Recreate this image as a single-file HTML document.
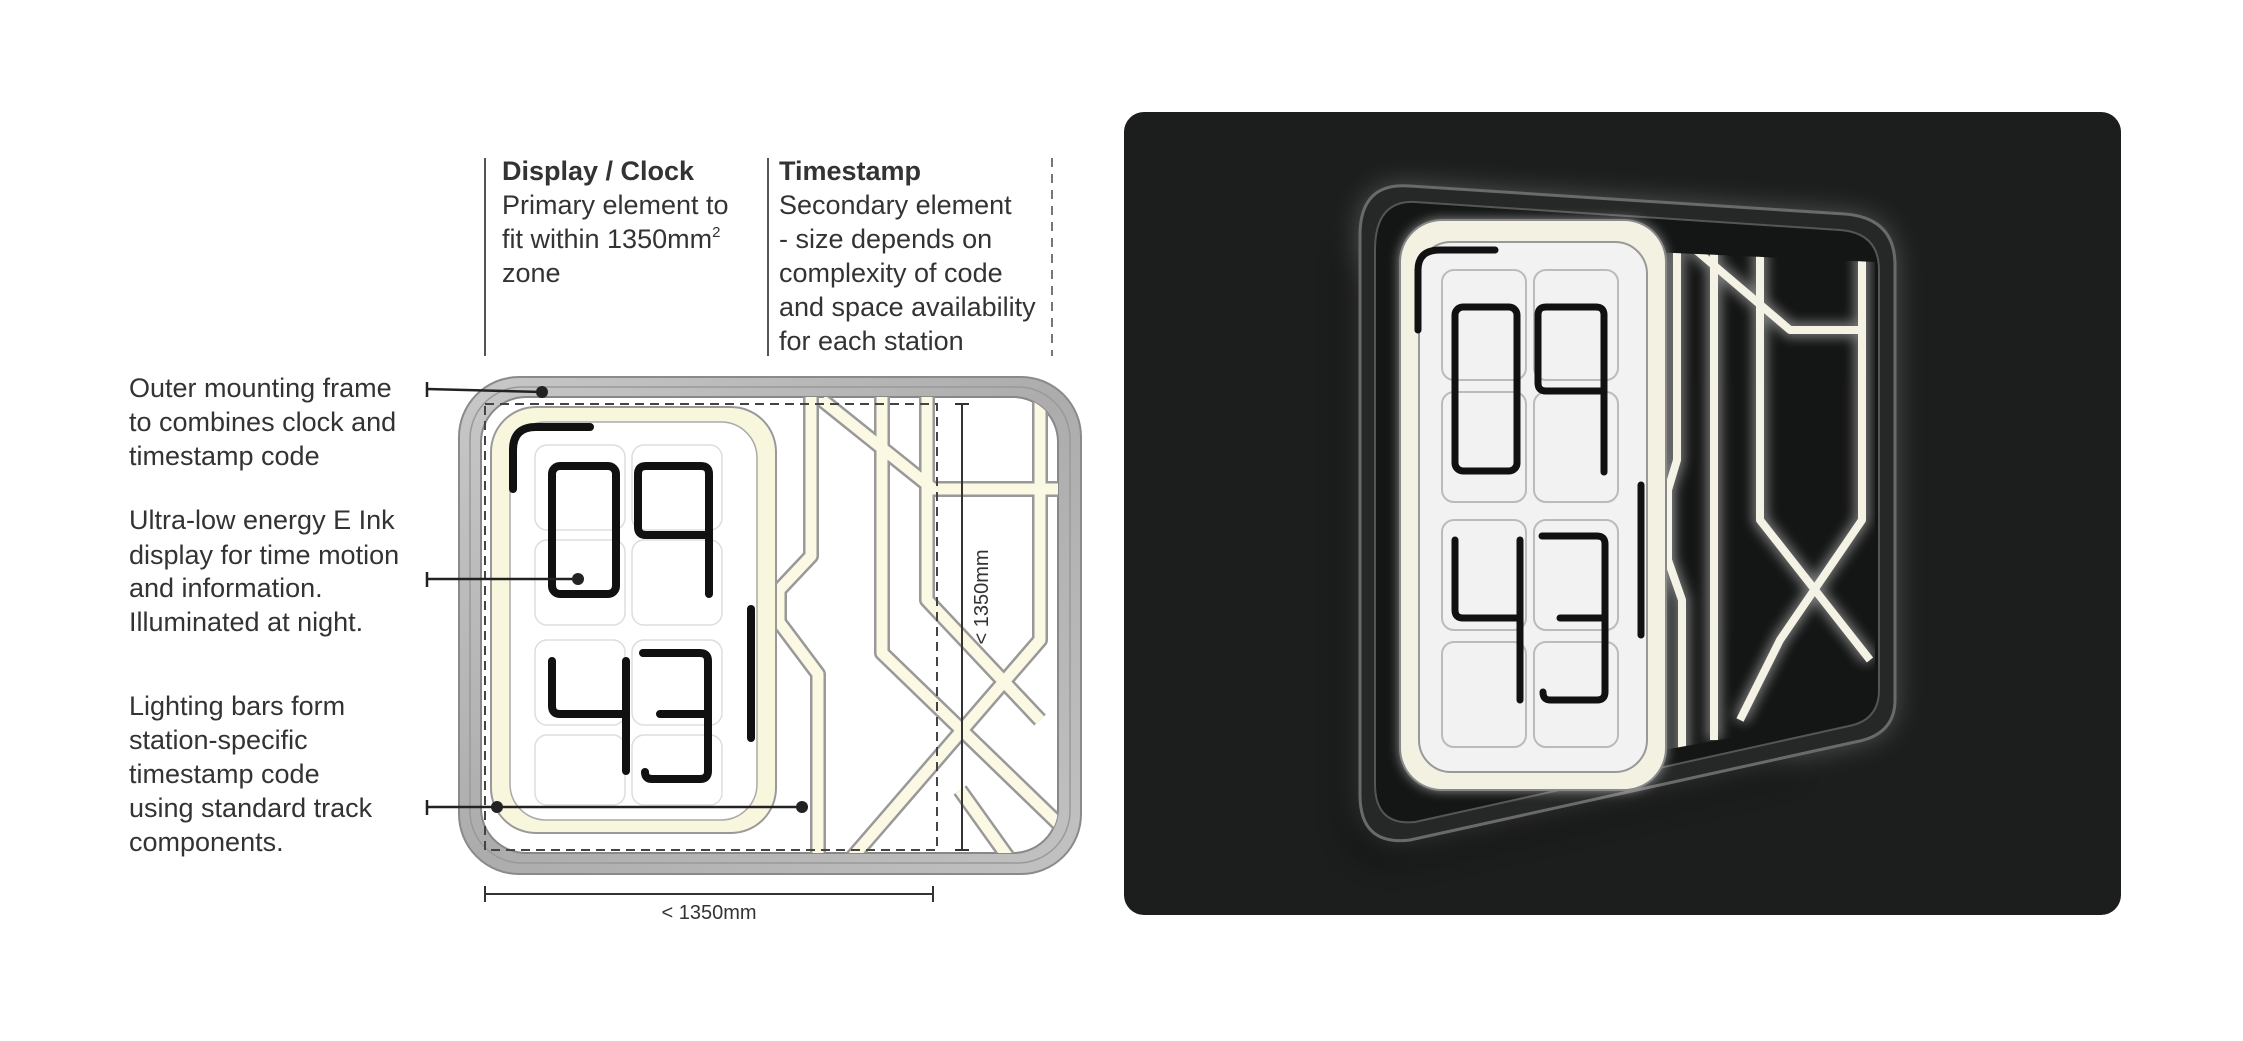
<!DOCTYPE html>
<html><head><meta charset="utf-8"><style>
html,body{margin:0;padding:0;background:#fff;}
svg{display:block;}
text{font-family:"Liberation Sans",sans-serif;fill:#333;}
</style></head><body>
<svg width="2243" height="1041" viewBox="0 0 2243 1041" xmlns="http://www.w3.org/2000/svg">
<defs>
<linearGradient id="metal" x1="0" y1="0" x2="1" y2="1">
<stop offset="0" stop-color="#c8c8c8"/><stop offset="0.5" stop-color="#acacac"/><stop offset="1" stop-color="#c2c2c2"/>
</linearGradient>
<filter id="glow" x="-20%" y="-20%" width="140%" height="140%"><feGaussianBlur stdDeviation="6"/></filter>
<filter id="bigglow" x="-30%" y="-30%" width="160%" height="160%"><feGaussianBlur stdDeviation="14"/></filter>
<clipPath id="inner"><rect x="481" y="397" width="577" height="456" rx="45"/></clipPath>
<clipPath id="dinner"><path d="M1385,240 L1875,262 L1875,712 L1385,800 Z"/></clipPath>
</defs>

<!-- top labels -->
<line x1="485" y1="158" x2="485" y2="356" stroke="#555" stroke-width="2"/>
<line x1="768" y1="158" x2="768" y2="356" stroke="#555" stroke-width="2"/>
<line x1="1052" y1="158" x2="1052" y2="356" stroke="#777" stroke-width="2" stroke-dasharray="9,7"/>
<g font-size="27">
<text x="502" y="180" font-weight="bold" fill="#222">Display / Clock</text>
<text x="502" y="214">Primary element to</text>
<text x="502" y="248">fit within 1350mm<tspan font-size="15" dy="-11">2</tspan></text>
<text x="502" y="282">zone</text>
<text x="779" y="180" font-weight="bold" fill="#222">Timestamp</text>
<text x="779" y="214">Secondary element</text>
<text x="779" y="248">- size depends on</text>
<text x="779" y="282">complexity of code</text>
<text x="779" y="316">and space availability</text>
<text x="779" y="350">for each station</text>
</g>

<!-- left labels -->
<g font-size="27">
<text x="129" y="397">Outer mounting frame</text>
<text x="129" y="431">to combines clock and</text>
<text x="129" y="465">timestamp code</text>
<text x="129" y="529">Ultra-low energy E Ink</text>
<text x="129" y="564">display for time motion</text>
<text x="129" y="597">and information.</text>
<text x="129" y="631">Illuminated at night.</text>
<text x="129" y="715">Lighting bars form</text>
<text x="129" y="749">station-specific</text>
<text x="129" y="783">timestamp code</text>
<text x="129" y="817">using standard track</text>
<text x="129" y="851">components.</text>
</g>

<!-- frame -->
<rect x="459" y="377" width="622" height="497" rx="60" fill="url(#metal)" stroke="#8a8a8a" stroke-width="2"/>
<rect x="470" y="387" width="600" height="476" rx="52" fill="none" stroke="#999" stroke-width="1.5"/>
<rect x="481" y="397" width="577" height="456" rx="45" fill="#fff" stroke="#888" stroke-width="2"/>
<g clip-path="url(#inner)" fill="none" stroke-linejoin="round">
<g stroke="#999" stroke-width="16">
<polyline points="811,390 811,556 779,590 779,622 818,674 818,860"/>
<polyline points="822,400 933,489 1065,489"/>
<polyline points="882,390 882,653 1065,830"/>
<polyline points="927,390 927,600 1040,720"/>
<polyline points="1040,390 1040,640 850,860"/>
<polyline points="1010,860 960,790"/>
</g>
<g stroke="#fbf8e4" stroke-width="11">
<polyline points="811,390 811,556 779,590 779,622 818,674 818,860"/>
<polyline points="822,400 933,489 1065,489"/>
<polyline points="882,390 882,653 1065,830"/>
<polyline points="927,390 927,600 1040,720"/>
<polyline points="1040,390 1040,640 850,860"/>
<polyline points="1010,860 960,790"/>
</g>
</g>
<!-- clock panel -->
<rect x="491" y="407" width="285" height="426" rx="45" fill="#f9f6de" stroke="#999" stroke-width="2"/>
<rect x="510" y="422" width="247" height="398" rx="36" fill="#fff" stroke="#aaa" stroke-width="1.5"/>
<g fill="none" stroke="#ddd" stroke-width="1.5">
<rect x="535" y="445" width="90" height="85" rx="12"/><rect x="632" y="445" width="90" height="85" rx="12"/>
<rect x="535" y="540" width="90" height="85" rx="12"/><rect x="632" y="540" width="90" height="85" rx="12"/>
<rect x="535" y="640" width="90" height="85" rx="12"/><rect x="632" y="640" width="90" height="85" rx="12"/>
<rect x="535" y="735" width="90" height="70" rx="12"/><rect x="632" y="735" width="90" height="70" rx="12"/>
</g>
<g fill="none" stroke="#111" stroke-width="8" stroke-linecap="round" stroke-linejoin="round">
<path d="M513,489 L513,450 Q513,427 536,427 L590,427"/>
<rect x="552" y="466" width="64" height="128" rx="8"/>
<path d="M709,594 L709,474 Q709,466 701,466 L646,466 Q638,466 638,474 L638,527 Q638,535 646,535 L709,535"/>
<path d="M552,661 L552,706 Q552,714 560,714 L626,714 M626,661 L626,771"/>
<path d="M643,653 L700,653 Q708,653 708,661 L708,771 Q708,779 700,779 L652,779 Q645,779 645,772 M660,714 L708,714"/>
<line x1="751" y1="609" x2="751" y2="738"/>
</g>
<!-- dashed zone -->
<rect x="485" y="404" width="452" height="446" fill="none" stroke="#444" stroke-width="2" stroke-dasharray="9,6"/>
<!-- connectors -->
<g stroke="#222" stroke-width="2.5">
<line x1="427" y1="389" x2="542" y2="392"/><line x1="427" y1="382" x2="427" y2="397"/>
<line x1="427" y1="579" x2="578" y2="579"/><line x1="427" y1="572" x2="427" y2="587"/>
<line x1="427" y1="807" x2="802" y2="807"/><line x1="427" y1="800" x2="427" y2="815"/>
</g>
<g fill="#222"><circle cx="542" cy="392" r="6"/><circle cx="578" cy="579" r="6"/><circle cx="497" cy="807" r="6"/><circle cx="802" cy="807" r="6"/></g>
<!-- dims -->
<g stroke="#333" stroke-width="2">
<line x1="962" y1="404" x2="962" y2="850"/><line x1="955" y1="404" x2="969" y2="404"/><line x1="955" y1="850" x2="969" y2="850"/>
<line x1="485" y1="894" x2="933" y2="894"/><line x1="485" y1="886" x2="485" y2="902"/><line x1="933" y1="886" x2="933" y2="902"/>
</g>
<text x="0" y="0" font-size="20" text-anchor="middle" transform="translate(981,597) rotate(-90) translate(0,7)">&lt; 1350mm</text>
<text x="709" y="919" font-size="20" text-anchor="middle">&lt; 1350mm</text>

<!-- dark panel -->
<rect x="1124" y="112" width="997" height="803" rx="20" fill="#1c1d1d"/>
<path d="M1360,235 Q1360,182 1410,186 L1845,214 Q1895,218 1895,265 L1895,700 Q1895,735 1855,742 L1410,840 Q1360,846 1360,795 Z" fill="#fff" opacity="0.25" filter="url(#bigglow)"/>
<path d="M1345,250 L1345,820 Q1347,865 1400,862 L1800,770 Z" fill="#000" opacity="0.35" filter="url(#bigglow)"/>
<path d="M1360,235 Q1360,182 1410,186 L1845,214 Q1895,218 1895,265 L1895,700 Q1895,735 1855,742 L1410,840 Q1360,846 1360,795 Z" fill="#262727" stroke="#6a6a6a" stroke-width="3"/>
<path d="M1375,250 Q1375,200 1415,202 L1840,230 Q1879,233 1879,270 L1879,690 Q1879,720 1849,726 L1415,822 Q1375,826 1375,784 Z" fill="#141515" stroke="#555" stroke-width="2"/>
<g clip-path="url(#dinner)" fill="none" stroke-linejoin="round">
<g stroke="#fff" stroke-width="14" opacity="0.45" filter="url(#glow)">
<polyline points="1677,240 1677,460 1668,490 1668,560 1682,600 1682,760"/>
<polyline points="1690,245 1790,330 1860,330"/>
<polyline points="1714,240 1714,740"/>
<polyline points="1760,245 1760,520 1870,660"/>
<polyline points="1862,250 1862,520 1780,640 1740,720"/>
</g>
<g stroke="#f4f2e4" stroke-width="8">
<polyline points="1677,240 1677,460 1668,490 1668,560 1682,600 1682,760"/>
<polyline points="1690,245 1790,330 1860,330"/>
<polyline points="1714,240 1714,740"/>
<polyline points="1760,245 1760,520 1870,660"/>
<polyline points="1862,250 1862,520 1780,640 1740,720"/>
</g>
</g>
<rect x="1400" y="220" width="266" height="570" rx="42" fill="#fff" opacity="0.6" filter="url(#glow)"/>
<rect x="1400" y="220" width="266" height="570" rx="42" fill="#f3f1e2" stroke="#888" stroke-width="2"/>
<rect x="1419" y="242" width="228" height="530" rx="32" fill="#f2f2f2" stroke="#999" stroke-width="2"/>
<g fill="none" stroke="#bbb" stroke-width="2">
<rect x="1442" y="270" width="84" height="110" rx="12"/><rect x="1534" y="270" width="84" height="110" rx="12"/>
<rect x="1442" y="392" width="84" height="110" rx="12"/><rect x="1534" y="392" width="84" height="110" rx="12"/>
<rect x="1442" y="520" width="84" height="110" rx="12"/><rect x="1534" y="520" width="84" height="110" rx="12"/>
<rect x="1442" y="642" width="84" height="105" rx="12"/><rect x="1534" y="642" width="84" height="105" rx="12"/>
</g>
<g fill="none" stroke="#111" stroke-width="7" stroke-linecap="round" stroke-linejoin="round">
<path d="M1418,330 L1418,270 Q1418,250 1440,250 L1495,250"/>
<rect x="1455" y="307" width="62" height="164" rx="8"/>
<path d="M1604,472 L1604,315 Q1604,307 1596,307 L1546,307 Q1538,307 1538,315 L1538,383 Q1538,391 1546,391 L1604,391"/>
<path d="M1455,540 L1455,610 Q1455,618 1463,618 L1520,618 M1520,540 L1520,700"/>
<path d="M1542,536 L1597,536 Q1605,536 1605,544 L1605,692 Q1605,700 1597,700 L1550,700 Q1543,700 1543,692 M1560,618 L1605,618"/>
<line x1="1641" y1="485" x2="1641" y2="635"/>
</g>
</svg>
</body></html>
